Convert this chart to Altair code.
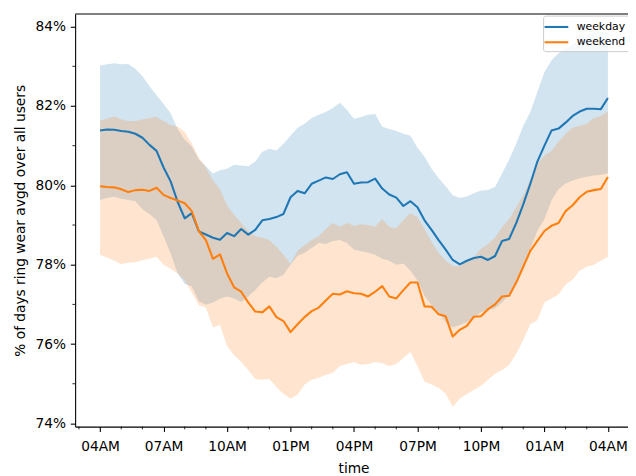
import json
import altair as alt
import pandas as pd

# time axis: hours after 04AM, 20-minute steps (04AM .. 04AM next day)
hours = [i / 3 for i in range(73)]

weekday_mean = [81.38, 81.41, 81.40, 81.37, 81.35, 81.30, 81.20, 81.02, 80.87, 80.45,
                80.10, 79.58, 79.17, 79.30, 78.84, 78.76, 78.68, 78.63, 78.80, 78.72,
                78.90, 78.76, 78.88, 79.12, 79.15, 79.20, 79.28, 79.70, 79.86, 79.80,
                80.04, 80.12, 80.20, 80.16, 80.28, 80.33, 80.04, 80.07, 80.08, 80.17,
                79.92, 79.77, 79.69, 79.48, 79.60, 79.45, 79.12, 78.88, 78.62, 78.38,
                78.12, 78.01, 78.10, 78.17, 78.20, 78.12, 78.22, 78.60, 78.65, 79.05,
                79.52, 80.04, 80.60, 81.00, 81.38, 81.43, 81.58, 81.75, 81.86, 81.93,
                81.93, 81.92, 82.20]
weekday_hi = [83.02, 83.05, 83.08, 83.05, 83.06, 82.94, 82.75, 82.50, 82.28, 82.05,
              81.82, 81.42, 81.15, 80.98, 80.65, 80.48, 80.30, 80.38, 80.42, 80.52,
              80.50, 80.48, 80.60, 80.85, 80.92, 80.88, 81.05, 81.25, 81.45, 81.55,
              81.70, 81.78, 81.85, 81.95, 82.08, 81.90, 81.68, 81.72, 81.78, 81.80,
              81.48, 81.42, 81.37, 81.30, 81.25, 80.95, 80.72, 80.42, 80.18, 79.98,
              79.75, 79.68, 79.72, 79.80, 79.87, 79.88, 79.96, 80.30, 80.65, 81.05,
              81.50, 81.85, 82.35, 82.85, 83.15, 83.33, 83.45, 83.55, 83.68, 83.78,
              83.85, 83.86, 83.86]
weekday_lo = [79.63, 79.68, 79.71, 79.66, 79.63, 79.60, 79.40, 79.28, 79.13, 78.72,
              78.28, 77.78, 77.52, 77.45, 77.08, 76.99, 77.05, 77.14, 77.20, 77.15,
              77.06, 77.20, 77.36, 77.55, 77.70, 77.66, 77.75, 78.00, 78.22, 78.30,
              78.42, 78.55, 78.52, 78.60, 78.62, 78.55, 78.38, 78.34, 78.30, 78.25,
              78.15, 78.10, 78.00, 78.03, 77.85, 77.60, 77.22, 76.98, 76.80, 76.55,
              76.42, 76.48, 76.55, 76.65, 76.80, 76.85, 76.90, 77.05, 77.25, 77.50,
              77.95, 78.40, 78.85, 79.15, 79.62, 79.90, 80.05, 80.12, 80.18, 80.22,
              80.25, 80.27, 80.30]

weekend_mean = [79.98, 79.96, 79.95, 79.90, 79.83, 79.88, 79.89, 79.86, 79.94, 79.76,
                79.68, 79.62, 79.55, 79.35, 78.85, 78.62, 78.15, 78.26, 77.78, 77.43,
                77.32, 77.05, 76.82, 76.80, 76.95, 76.68, 76.58, 76.30, 76.50, 76.68,
                76.83, 76.92, 77.10, 77.27, 77.25, 77.33, 77.28, 77.27, 77.20, 77.32,
                77.46, 77.20, 77.15, 77.36, 77.55, 77.55, 76.95, 76.94, 76.75, 76.70,
                76.19, 76.36, 76.46, 76.69, 76.70, 76.88, 77.00, 77.20, 77.22, 77.55,
                77.95, 78.35, 78.60, 78.85, 78.98, 79.05, 79.35, 79.50, 79.70, 79.84,
                79.88, 79.91, 80.21]
weekend_hi = [81.63, 81.68, 81.74, 81.66, 81.62, 81.62, 81.66, 81.70, 81.72, 81.62,
              81.52, 81.48, 81.35, 81.05, 80.70, 80.45, 80.12, 79.90, 79.50, 79.25,
              79.05, 78.85, 78.72, 78.68, 78.62, 78.45, 78.25, 78.02, 78.35, 78.50,
              78.62, 78.72, 78.90, 79.05, 78.96, 79.05, 78.98, 79.02, 79.00, 78.96,
              79.15, 78.95, 78.92, 79.13, 79.30, 79.20, 78.90, 78.58, 78.30, 78.10,
              77.97, 77.97, 78.10, 78.20, 78.40, 78.52, 78.68, 78.95, 79.15, 79.45,
              79.75, 80.15, 80.55, 80.75, 80.87, 81.10, 81.30, 81.45, 81.50, 81.55,
              81.70, 81.75, 81.86]
weekend_lo = [78.25, 78.18, 78.10, 78.02, 78.05, 78.06, 78.12, 78.15, 78.20, 78.00,
              77.90, 77.78, 77.60, 77.30, 76.98, 76.92, 76.42, 76.48, 75.95, 75.72,
              75.55, 75.35, 75.12, 75.10, 75.12, 74.92, 74.75, 74.62, 74.72, 74.98,
              75.10, 75.15, 75.22, 75.28, 75.45, 75.50, 75.55, 75.48, 75.50, 75.55,
              75.52, 75.45, 75.50, 75.65, 75.80, 75.45, 75.05, 74.98, 74.90, 74.75,
              74.42, 74.62, 74.74, 74.85, 74.95, 75.10, 75.25, 75.35, 75.48, 75.75,
              76.10, 76.50, 76.60, 77.05, 77.15, 77.25, 77.50, 77.62, 77.85, 77.95,
              78.00, 78.10, 78.20]

series_names = ["weekday", "weekend"]
series_colors = ["#1f77b4", "#ff7f0e"]

x_tick_hours = [0, 3, 6, 9, 12, 15, 18, 21, 24]
x_tick_labels = ["04AM", "07AM", "10AM", "01PM", "04PM", "07PM", "10PM", "01AM", "04AM"]
x_minor_hours = [-1, 1, 2, 4, 5, 7, 8, 10, 11, 13, 14, 16, 17, 19, 20, 22, 23]
y_ticks = [74, 76, 78, 80, 82, 84]
y_minor = [75, 77, 79, 81, 83]

W, H = 560, 418
FONT = "DejaVu Sans"

rows = []
for name, m, lo, hi in [("weekday", weekday_mean, weekday_lo, weekday_hi),
                        ("weekend", weekend_mean, weekend_lo, weekend_hi)]:
    for h, a, b, c in zip(hours, m, lo, hi):
        rows.append({"h": h, "series": name, "mean": a, "lo": b, "hi": c})
df = pd.DataFrame(rows)

x_label_expr = json.dumps(x_tick_labels) + "[round(datum.value / 3)]"


def xenc(field):
    return alt.X(f"{field}:Q",
                 scale=alt.Scale(domain=[-1.18, 24.95], nice=False, zero=False),
                 axis=alt.Axis(values=x_tick_hours, labelExpr=x_label_expr, title="time",
                               labelPadding=8, titlePadding=9, titleX=282))


def yenc(field):
    return alt.Y(f"{field}:Q",
                 scale=alt.Scale(domain=[73.92, 84.32], nice=False, zero=False),
                 axis=alt.Axis(values=y_ticks, labelExpr="datum.value + '%'",
                               title="% of days ring wear avgd over all users",
                               labelPadding=4.9, titlePadding=8))


band_layers = []
for name, col in zip(series_names, series_colors):
    band_layers.append(
        alt.Chart(df).transform_filter(alt.datum.series == name)
        .mark_area(opacity=0.2, color=col)
        .encode(x=xenc("h"), y=yenc("lo"), y2="hi:Q")
    )

lines = alt.Chart(df).mark_line(strokeWidth=2.1, strokeJoin="round").encode(
    x=xenc("h"),
    y=yenc("mean"),
    color=alt.Color("series:N", scale=alt.Scale(domain=series_names, range=series_colors),
                    legend=alt.Legend(title=None, orient="none", legendX=474, legendY=1.7,
                                      padding=4, symbolType="M-2,0L2,0", symbolSize=144,
                                      symbolStrokeWidth=2.1, symbolOffset=2, labelOffset=13,
                                      labelFont=FONT, labelFontSize=11, labelColor="black",
                                      rowPadding=2.5, fillColor="rgba(255,255,255,0.8)",
                                      strokeColor="#cccccc", cornerRadius=2.5)),
)

xminor = alt.Chart(pd.DataFrame({"h": x_minor_hours})).mark_rule(
    color="black", strokeWidth=0.83).encode(
    x=xenc("h"), y=alt.value(H), y2=alt.value(H + 2.8))

yminor = alt.Chart(pd.DataFrame({"v": y_minor})).mark_rule(
    color="black", strokeWidth=0.83).encode(
    y=yenc("v"), x=alt.value(-2.8), x2=alt.value(0))

top_spine = alt.Chart(pd.DataFrame({"k": [0]})).mark_rule(
    color="black", strokeWidth=1.1).encode(
    x=alt.value(0), x2=alt.value(W), y=alt.value(0))

chart = alt.layer(*band_layers, lines, xminor, yminor, top_spine).properties(
    width=W, height=H,
    autosize=alt.AutoSizeParams(type="none"),
    padding={"left": 68, "top": 3, "right": 0, "bottom": 47},
).configure_view(stroke=None).configure_axis(
    grid=False, domainColor="black", domainWidth=1.1, tickColor="black", tickWidth=1.1,
    tickSize=4.9, labelFont=FONT, labelFontSize=13.9, labelColor="black",
    titleFont=FONT, titleFontSize=13.9, titleFontWeight="normal", titleColor="black",
)

chart.save("out.html", embed_options={"renderer": "svg", "actions": False})
